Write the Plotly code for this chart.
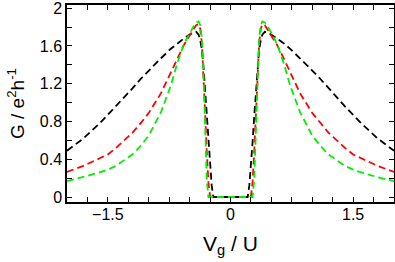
import plotly.graph_objects as go

vg = [-2.0, -1.8, -1.6, -1.5, -1.4, -1.2, -1.1, -1.0, -0.85, -0.73, -0.65, -0.57, -0.5,
      -0.45, -0.42, -0.39, -0.37, -0.35, -0.33, -0.31, -0.29, -0.27, -0.25, -0.23, -0.21, -0.1,
      0.0, 0.1, 0.21, 0.23, 0.25, 0.27, 0.29, 0.31, 0.33, 0.35, 0.37, 0.39, 0.42, 0.45,
      0.5, 0.57, 0.65, 0.73, 0.85, 1.0, 1.1, 1.2, 1.4, 1.5, 1.6, 1.8, 2.0]

g_black = [0.49, 0.62, 0.78, 0.87, 0.96, 1.15, 1.25, 1.34, 1.47, 1.57, 1.63, 1.68, 1.72,
           1.745, 1.75, 1.72, 1.66, 1.56, 1.38, 1.12, 0.85, 0.58, 0.33, 0.12, 0.0, 0.0,
           0.0, 0.0, 0.0, 0.12, 0.33, 0.58, 0.85, 1.12, 1.38, 1.56, 1.66, 1.72, 1.75, 1.745,
           1.72, 1.68, 1.63, 1.57, 1.47, 1.34, 1.25, 1.15, 0.96, 0.87, 0.78, 0.62, 0.49]

g_red = [0.265, 0.33, 0.41, 0.45, 0.52, 0.68, 0.78, 0.89, 1.10, 1.32, 1.47, 1.61, 1.71,
         1.78, 1.82, 1.83, 1.78, 1.62, 1.30, 0.88, 0.48, 0.15, 0.01, 0.0, 0.0, 0.0,
         0.0, 0.0, 0.0, 0.0, 0.01, 0.15, 0.48, 0.88, 1.30, 1.62, 1.78, 1.83, 1.82, 1.78,
         1.71, 1.61, 1.47, 1.32, 1.10, 0.89, 0.78, 0.68, 0.52, 0.45, 0.41, 0.33, 0.265]

g_green = [0.167, 0.21, 0.26, 0.29, 0.33, 0.45, 0.54, 0.65, 0.90, 1.18, 1.42, 1.62, 1.74,
           1.81, 1.85, 1.86, 1.82, 1.68, 1.30, 0.72, 0.18, 0.0, 0.0, 0.0, 0.0, 0.0,
           0.0, 0.0, 0.0, 0.0, 0.0, 0.0, 0.18, 0.72, 1.30, 1.68, 1.82, 1.86, 1.85, 1.81,
           1.74, 1.62, 1.42, 1.18, 0.90, 0.65, 0.54, 0.45, 0.33, 0.29, 0.26, 0.21, 0.167]

series = [("black", g_black), ("red", g_red), ("#00ee00", g_green)]

fig = go.Figure()
for color, g in series:
    fig.add_trace(go.Scatter(x=vg, y=g, mode="lines",
                             line=dict(color=color, width=1.8, dash="7px,4px"),
                             showlegend=False))

FONT = "Liberation Sans, Arial"
axis_common = dict(showgrid=False, zeroline=False, showline=True, linecolor="black",
                   linewidth=1.5, mirror="ticks", ticks="inside", ticklen=5,
                   tickwidth=1, tickcolor="black", automargin=False,
                   ticklabeloverflow="allow",
                   tickfont=dict(family=FONT, size=16, color="black"))

fig.update_xaxes(range=[-2, 2], tick0=0, dtick=1.5, ticklabelstandoff=-3,
                 minor=dict(dtick=0.25, ticks="inside", ticklen=5, tickcolor="black"),
                 title=dict(text="V<sub>g</sub> / U", standoff=14,
                            font=dict(family=FONT, size=21, color="black")),
                 **axis_common)
fig.update_yaxes(range=[-0.053, 2.034], tick0=0, dtick=0.4,
                 minor=dict(dtick=0.2, ticks="inside", ticklen=5, tickcolor="black"),
                 title=dict(text="G / e<sup>2</sup>h<sup>-1</sup>", standoff=10,
                            font=dict(family=FONT, size=19, color="black")),
                 **axis_common)

fig.update_layout(width=395, height=262, margin=dict(l=67, r=1, t=5, b=60),
                  plot_bgcolor="white", paper_bgcolor="white")

fig.write_html("out.html", config={"displayModeBar": False},
               post_script="document.body.style.margin='0';")
